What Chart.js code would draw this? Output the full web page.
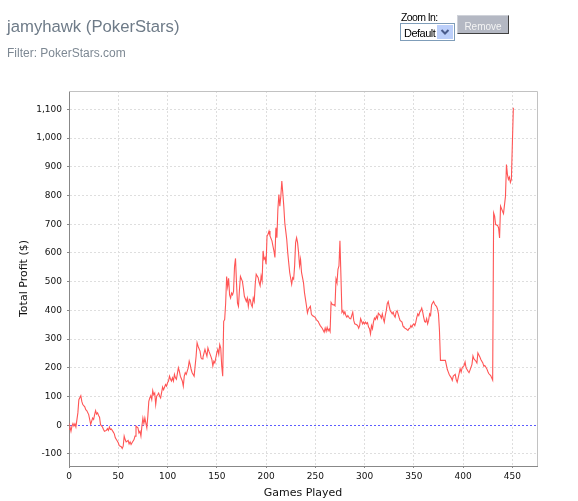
<!DOCTYPE html>
<html><head><meta charset="utf-8">
<script src="https://cdn.jsdelivr.net/npm/chart.js@4"></script>
<style>
html,body{margin:0;padding:0;background:#fff;width:578px;height:501px;overflow:hidden;}
#wrap{position:relative;width:578px;height:501px;}
#c{position:absolute;left:0;top:0;}
.t{position:absolute;white-space:nowrap;font-family:"Liberation Sans",Arial,sans-serif;line-height:1;}
</style></head><body>
<div id="wrap">
<canvas id="c" width="578" height="501"></canvas>
<div class="t" style="left:7px;top:19px;font-size:16.7px;color:#6e7b88">jamyhawk (PokerStars)</div>
<div class="t" style="left:7px;top:47px;font-size:12px;color:#7d8893">Filter: PokerStars.com</div>
<div class="t" style="left:401px;top:12px;font-size:10.5px;letter-spacing:-0.6px;color:#000">Zoom In:</div>
<div style="position:absolute;left:400px;top:23px;width:53px;height:16px;border:1px solid #7f9db9;background:#fff;">
  <div class="t" style="left:3px;top:4px;font-size:11px;letter-spacing:-0.5px;color:#000">Default</div>
  <div style="position:absolute;right:1px;top:1px;width:16px;height:14px;background:#bccffa;">
    <svg width="16" height="14" style="position:absolute;left:0;top:0"><polyline points="4.5,5 8,8.5 11.5,5" fill="none" stroke="#4a5c8c" stroke-width="2"/></svg>
  </div>
</div>
<div style="position:absolute;left:457px;top:15px;width:50px;height:17px;background:#b4b8c3;border-top:1px solid #cfd2d9;border-left:1px solid #cfd2d9;border-right:1px solid #404040;border-bottom:1px solid #404040;">
  <div class="t" style="left:0;width:50px;text-align:center;top:6px;font-size:10px;color:#f4f4f4">Remove</div>
</div>
</div>
<script>
const games = [0,1,2,3,4,5,6,7,9,10,12,13,14,16,17,18,20,21,22,24,25,26,27,28,29,30,31,32,34,35,36,38,39,40,41,42,43,45,46,47,49,50,51,53,54,55,56,57,58,60,61,62,63,64,66,67,68,70,71,72,73,74,75,76,77,79,80,81,82,83,84,85,86,87,88,89,90,91,92,93,95,96,
98,99,100,101,102,103,104,105,106,107,108,109,111,112,113,115,116,117,118,119,121,122,123,124,125,127,128,129,130,131,133,134,135,136,138,139,140,141,142,144,145,146,147,148,149,150,151,152,153,154,155,156,157,158,159,160,161,162,163,164,165,166,167,168,169,170,171,172,173,174,176,177,178,180,181,182,183,184,185,186,187,188,
189,190,192,193,194,195,196,197,198,199,200,201,202,203,204,206,207,208,209,210,211,212,213,214,215,216,217,218,219,220,221,222,223,224,226,227,228,229,230,231,232,233,234,235,236,238,239,240,241,242,243,245,246,247,249,250,251,253,254,255,257,258,259,260,261,262,263,264,265,266,267,268,269,270,271,272,273,274,275,276,277,278,279,280,281,282,283,284,285,
286,288,289,290,292,293,294,295,296,297,298,299,300,301,302,303,304,305,306,307,308,309,310,311,312,313,314,316,317,318,319,320,321,322,323,324,325,326,327,328,329,330,331,332,333,334,335,336,338,339,340,341,342,343,344,345,346,347,348,349,350,351,352,353,354,355,356,357,358,359,360,361,362,363,364,365,366,367,368,369,370,371,372,373,374,375,376,
377,382,384,385,386,388,389,390,392,393,394,395,397,398,399,401,402,403,405,406,407,409,410,411,413,414,415,417,418,420,421,422,424,425,426,428,429,430,431,432,433,435,436,437,438,440,441,443,444,445,446,447,448,449,451];
const profit = [-15,-6,-21,-3,6,-3,5,-6,43,89,103,83,72,64,54,51,37,20,3,25,20,37,51,39,43,34,28,2,-6,-15,-21,-18,-12,-18,-6,-15,-13,-24,-30,-44,-55,-61,-71,-75,-81,-73,-38,-50,-58,-53,-65,-58,-67,-61,-50,-38,-3,-9,-27,-21,-38,-3,25,6,25,-9,31,83,95,103,89,121,106,112,72,101,106,112,101,95,133,124,
142,136,148,154,171,160,154,165,154,177,165,160,200,188,171,154,136,171,183,177,200,223,211,194,183,171,206,240,287,275,258,235,231,237,264,252,240,269,258,240,229,206,223,217,235,252,264,247,281,269,206,171,362,368,425,518,483,512,454,443,460,454,466,553,581,495,425,414,472,518,501,477,449,431,443,414,439,437,420,412,443,431,
491,526,514,497,486,520,503,607,578,584,561,659,665,676,659,642,624,607,584,688,653,751,803,763,798,850,809,763,705,676,647,601,566,532,491,514,509,555,636,653,636,601,555,578,532,497,462,439,416,391,404,414,387,382,378,375,368,361,353,347,338,331,324,338,327,341,329,335,326,428,422,419,420,416,509,497,543,555,642,520,393,399,387,395,382,376,382,376,372,
371,394,365,353,350,347,338,347,371,362,353,359,353,359,353,357,342,336,318,347,336,359,373,368,380,371,390,382,373,388,371,359,382,399,423,431,414,399,394,388,394,382,376,394,399,388,376,365,359,345,341,338,336,333,330,336,338,347,341,350,353,347,359,376,388,382,394,399,408,394,376,361,359,371,353,365,388,382,419,426,431,423,417,414,405,388,330,
226,226,194,185,176,165,156,171,177,159,150,165,197,185,200,208,220,200,188,183,192,212,241,231,223,217,252,238,229,217,206,208,197,188,180,173,165,157,739,728,699,696,687,652,763,745,737,797,908,873,856,864,846,856,1106];
const xTickValues = [0,50,100,150,200,250,300,350,400,450];
const yTickValues = [-100,0,100,200,300,400,500,600,700,800,900,1000,1100];
const xRange = [0, 475];
const yRange = [-142, 1164];

const outline = {
  id: 'outline',
  afterDatasetsDraw(chart) {
    const {ctx, chartArea: a} = chart;
    ctx.save();
    ctx.strokeStyle = '#c2c2c2';
    ctx.lineWidth = 1;
    ctx.beginPath();
    ctx.moveTo(a.left, Math.floor(a.top) + 0.5);
    ctx.lineTo(Math.floor(a.right) + 0.5, Math.floor(a.top) + 0.5);
    ctx.lineTo(Math.floor(a.right) + 0.5, a.bottom);
    ctx.stroke();
    ctx.restore();
  }
};

const tickFont = {family: 'DejaVu Sans', size: 9};
const titleFont = {family: 'DejaVu Sans', size: 11};

new Chart(document.getElementById('c'), {
  type: 'line',
  data: {
    datasets: [{
      data: games.map((g, i) => ({x: g, y: profit[i]})),
      borderColor: '#ff5555',
      borderWidth: 1.1,
      pointRadius: 0,
      tension: 0,
      fill: false
    }]
  },
  options: {
    responsive: false,
    animation: false,
    events: [],
    layout: {padding: {top: 91, right: 41, bottom: 0, left: 0}},
    plugins: {legend: {display: false}, tooltip: {enabled: false}, title: {display: false}},
    scales: {
      x: {
        type: 'linear', min: xRange[0], max: xRange[1],
        afterBuildTicks: s => { s.ticks = xTickValues.map(v => ({value: v})); },
        afterFit: s => { s.height = 35; },
        ticks: {font: tickFont, color: '#111', padding: 3, maxRotation: 0, autoSkip: false, callback: v => String(v)},
        grid: {color: '#dedede', lineWidth: 1, tickLength: 2, tickColor: '#888', tickBorderDash: []},
        border: {display: true, color: '#888', width: 1, dash: [2, 2]},
        title: {display: true, text: 'Games Played', font: titleFont, color: '#111', padding: {top: 0, bottom: 1}}
      },
      y: {
        type: 'linear', min: yRange[0], max: yRange[1],
        afterBuildTicks: s => { s.ticks = yTickValues.map(v => ({value: v})); },
        afterFit: s => { s.width = 69; },
        ticks: {font: tickFont, color: '#111', padding: 5, autoSkip: false, callback: v => v.toLocaleString('en-US')},
        grid: {
          color: c => (c.tick && c.tick.value === 0) ? '#5c5cff' : '#dedede',
          lineWidth: 1, tickLength: 2, tickColor: '#888', tickBorderDash: []
        },
        border: {display: true, color: '#888', width: 1, dash: [2, 2]},
        title: {display: true, text: 'Total Profit ($)', font: titleFont, color: '#111', padding: {top: 18, bottom: 0}}
      }
    }
  },
  plugins: [outline]
});
</script>
</body></html>
